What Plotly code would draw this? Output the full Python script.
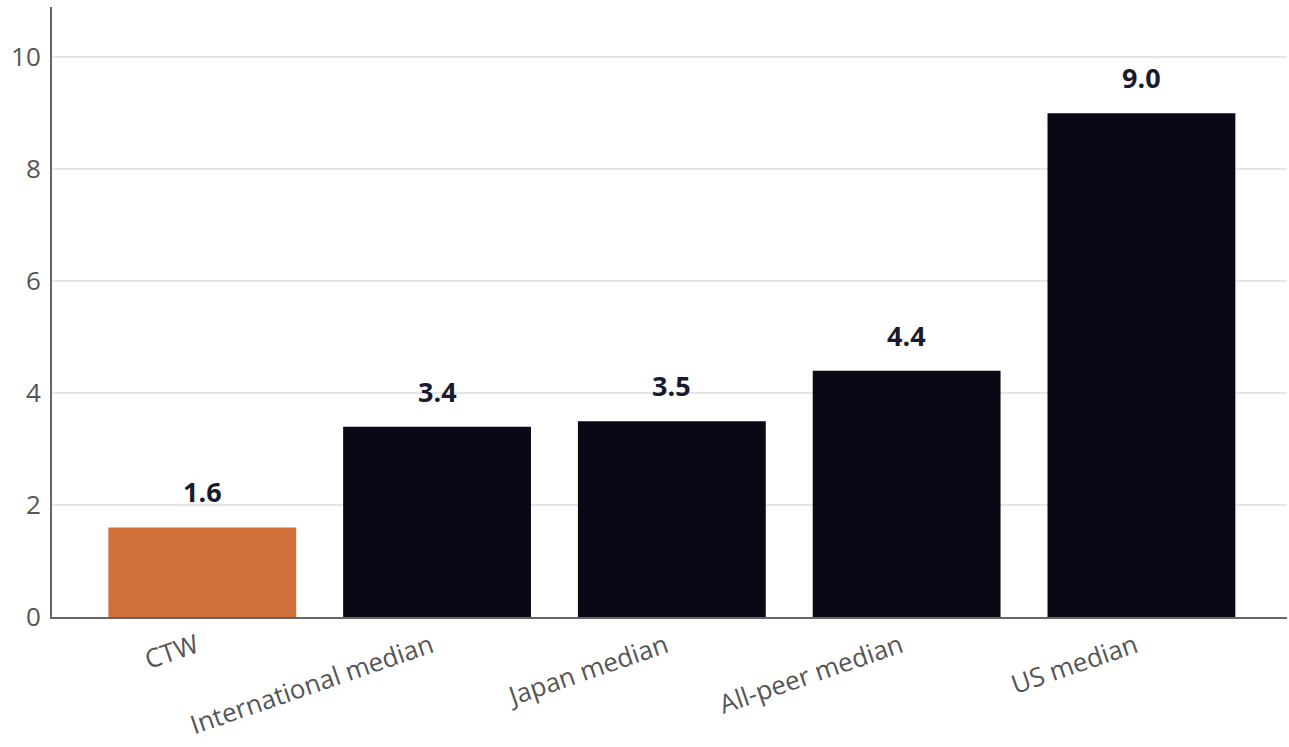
import plotly.graph_objects as go

categories = ["CTW", "International median", "Japan median", "All-peer median", "US median"]
values = [1.6, 3.4, 3.5, 4.4, 9.0]
labels = ["1.6", "3.4", "3.5", "4.4", "9.0"]
colors = ["#D06F3A", "#0A0815", "#0A0815", "#0A0815", "#0A0815"]

FONT = "Open Sans"

fig = go.Figure()
fig.add_trace(go.Bar(
    x=list(range(len(categories))), y=values,
    marker=dict(color=colors, line=dict(width=0)),
    width=0.8, hoverinfo="skip",
))
for i, (v, t) in enumerate(zip(values, labels)):
    fig.add_annotation(x=i, y=v, text=f"<b>{t}</b>", showarrow=False,
                       yanchor="bottom", yshift=15,
                       font=dict(family=FONT, size=27, color="#1a1a2e"))

fig.update_layout(
    width=1289, height=747,
    margin=dict(l=52, r=2, t=7, b=130),
    plot_bgcolor="white", paper_bgcolor="white",
    showlegend=False,
    font=dict(family=FONT, color="#555555"),
    xaxis=dict(
        tickmode="array", tickvals=list(range(len(categories))), ticktext=categories,
        range=[-0.64, 4.62], tickangle=-19, automargin=False,
        showline=True, linecolor="#666666", linewidth=2,
        showgrid=False, ticks="", tickfont=dict(size=26, color="#555555"),
        ticklabelshift=-6, ticklabelstandoff=2,
    ),
    yaxis=dict(
        range=[0, 10.9], tickvals=[0, 2, 4, 6, 8, 10], automargin=False,
        showline=True, linecolor="#666666", linewidth=2,
        showgrid=True, gridcolor="#e6e6e6", gridwidth=2,
        zeroline=False, ticks="", ticklabelstandoff=4,
        tickfont=dict(size=26, color="#555555"),
    ),
)

fig.write_html("out.html")
